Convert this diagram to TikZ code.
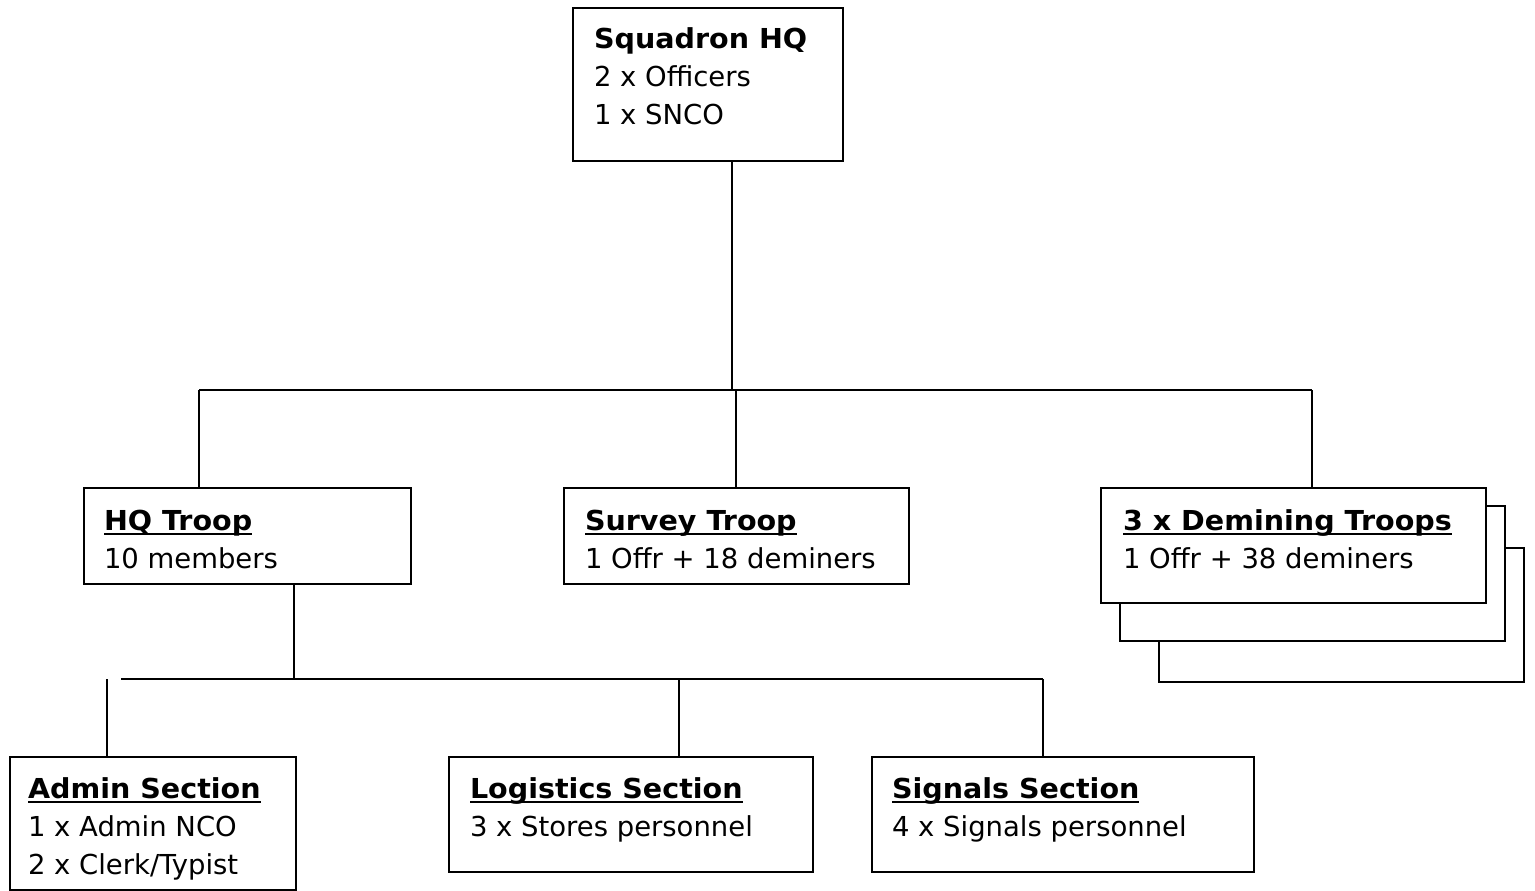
\documentclass[tikz,border=0pt]{standalone}
\usepackage{fontspec}
\setmainfont{DejaVu Sans}[BoldFeatures={FakeStretch=1.04}]
\newcommand\myul[1]{\setbox0\hbox{#1}\rlap{\rule[-4.1pt]{\wd0}{1.6pt}}\box0}
\begin{document}
\begin{tikzpicture}[x=0.75pt,y=-0.75pt,line width=1.5pt,
  box/.style={draw,rectangle,inner sep=0pt,fill=white,anchor=north west},
  txt/.style={anchor=base west,inner sep=0pt,font=\fontsize{20.6}{28.5}\selectfont},
  ttl/.style={txt,font=\fontsize{20.6}{28.5}\selectfont\bfseries}]
\useasboundingbox (0,0) rectangle (1535,891);
% boxes
\node[box,minimum width=202.5pt,minimum height=114.75pt] (sq) at (572,7) {};
\node[box,minimum width=245.25pt,minimum height=72pt] (hq) at (83,487) {};
\node[box,minimum width=258.75pt,minimum height=72pt] (sv) at (563,487) {};
\node[box,minimum width=273.75pt,minimum height=100.5pt] (dm3) at (1158,547) {};
\node[box,minimum width=288.75pt,minimum height=101.25pt] (dm2) at (1119,505) {};
\node[box,minimum width=288.75pt,minimum height=86.25pt] (dm1) at (1100,487) {};
\node[box,minimum width=214.5pt,minimum height=99.75pt] (ad) at (9,756) {};
\node[box,minimum width=273pt,minimum height=86.25pt] (lg) at (448,756) {};
\node[box,minimum width=286.5pt,minimum height=86.25pt] (sg) at (871,756) {};
% texts
\node[ttl] (t1) at (593,49) {Squadron HQ};
\node[txt] (t2) at (593,87) {2 x Officers};
\node[txt] (t3) at (593,125) {1 x SNCO};
\node[ttl] (t4) at (103,530) {\myul{HQ Troop}};
\node[txt] (t5) at (103,568) {10 members};
\node[ttl] (t6) at (584,530) {\myul{Survey Troop}};
\node[txt] (t7) at (584,568) {1 Offr + 18 deminers};
\node[ttl] (t8) at (1122,530) {\myul{3 x Demining Troops}};
\node[txt] (t9) at (1122,568) {1 Offr + 38 deminers};
\node[ttl] (t10) at (27,798) {\myul{Admin Section}};
\node[txt] (t11) at (27,836) {1 x Admin NCO};
\node[txt] (t12) at (27,874) {2 x Clerk/Typist};
\node[ttl] (t13) at (469,798) {\myul{Logistics Section}};
\node[txt] (t14) at (469,836) {3 x Stores personnel};
\node[ttl] (t15) at (891,798) {\myul{Signals Section}};
\node[txt] (t16) at (891,836) {4 x Signals personnel};
% connectors
\coordinate (b1) at (732,390);
\coordinate (b1l) at (199,390);
\coordinate (b1r) at (1312,390);
\coordinate (b1m) at (736,390);
\draw (sq.south -| b1) -- (b1);
\draw (b1l) -- (b1r);
\draw (b1l) -- (b1l |- hq.north);
\draw (b1m) -- (b1m |- sv.north);
\draw (b1r) -- (b1r |- dm1.north);
\coordinate (b2) at (294,679);
\coordinate (b2l) at (121,679);
\coordinate (b2r) at (1043,679);
\coordinate (b2a) at (107,679);
\coordinate (b2m) at (679,679);
\draw (hq.south -| b2) -- (b2);
\draw (b2l) -- (b2r);
\draw (b2a) -- (b2a |- ad.north);
\draw (b2m) -- (b2m |- lg.north);
\draw (b2r) -- (b2r |- sg.north);
\end{tikzpicture}
\end{document}
